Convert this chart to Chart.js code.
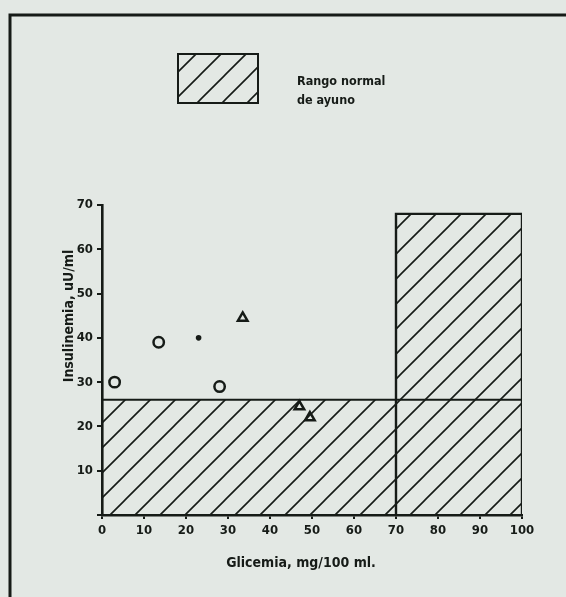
<!DOCTYPE html>
<html>
<head>
<meta charset="utf-8">
<script src="https://cdn.jsdelivr.net/npm/chart.js@4.4.1/dist/chart.umd.min.js"></script>
<style>
  html, body { margin: 0; padding: 0; background: #e3e8e4; }
  #wrap { width: 566px; height: 597px; }
</style>
</head>
<body>
<div id="wrap"><canvas id="c" width="566" height="597"></canvas></div>
<script>
// ---- data ----
const xTickValues = [0, 10, 20, 30, 40, 50, 60, 70, 80, 90, 100];
const yTickValues = [10, 20, 30, 40, 50, 60, 70];
const circleX = [3, 13.5, 28];
const circleY = [30, 39, 29];
const dotX = [23];
const dotY = [40];
const triangleX = [33.5, 47, 49.5];
const triangleY = [44.5, 24.5, 22];
// normal fasting range
const normalInsulinMax = 26;      // horizontal limit (uU/ml)
const normalGlucoseMin = 70;      // mg/100 ml
const normalGlucoseMax = 100;
const rightBoxTop = 68;
const legendLines = ['Rango normal', 'de ayuno'];
const xTitle = 'Glicemia, mg/100 ml.';
const yTitle = 'Insulinemia, uU/ml';

const INK = '#161b17';
const BG = '#e3e8e4';
const FONT = "'DejaVu Sans Condensed', 'Liberation Sans Narrow', 'Liberation Sans', sans-serif";

function makeHatch() {
  const s = 25;
  const p = document.createElement('canvas');
  p.width = s; p.height = s;
  const g = p.getContext('2d');
  g.strokeStyle = INK;
  g.lineWidth = 1.6;
  g.beginPath();
  g.moveTo(-2, s + 2); g.lineTo(s + 2, -2);
  g.moveTo(-2, 2); g.lineTo(2, -2);
  g.moveTo(s - 2, s + 2); g.lineTo(s + 2, s - 2);
  g.stroke();
  return g.createPattern(p, 'repeat');
}
const hatch = makeHatch();

const toPts = (xs, ys) => xs.map((x, i) => ({ x: x, y: ys[i] }));

const decor = {
  id: 'decor',
  beforeDraw(chart) {
    const c = chart.ctx;
    c.save();
    c.fillStyle = BG;
    c.fillRect(0, 0, chart.width, chart.height);
    c.restore();
  },
  afterDraw(chart) {
    const c = chart.ctx;
    c.save();
    // outer frame (left and top edges)
    c.strokeStyle = INK;
    c.lineWidth = 3;
    c.beginPath();
    c.moveTo(10, 600); c.lineTo(10, 15); c.lineTo(570, 15);
    c.stroke();
    // legend box
    const bx = 178, by = 54, bw = 80, bh = 49;
    c.save();
    c.beginPath(); c.rect(bx, by, bw, bh); c.clip();
    c.fillStyle = hatch; c.fillRect(bx, by, bw, bh);
    c.restore();
    c.lineWidth = 2;
    c.strokeRect(bx, by, bw, bh);
    c.fillStyle = INK;
    c.font = 'bold 12.5px ' + FONT;
    c.textBaseline = 'middle';
    c.textAlign = 'left';
    c.fillText(legendLines[0], 297, 82);
    c.fillText(legendLines[1], 297, 101);
    // axis titles
    c.font = 'bold 14px ' + FONT;
    c.textAlign = 'center';
    c.fillText(xTitle, 301, 563);
    c.translate(69, 316);
    c.rotate(-Math.PI / 2);
    c.fillText(yTitle, 0, 0);
    c.restore();
  }
};

new Chart(document.getElementById('c'), {
  type: 'scatter',
  data: {
    datasets: [
      { // lower hatched band
        data: [{ x: 0, y: normalInsulinMax }, { x: normalGlucoseMin, y: normalInsulinMax }],
        showLine: true, fill: 'origin', backgroundColor: hatch,
        borderWidth: 0, borderColor: 'rgba(0,0,0,0)', pointRadius: 0, order: 10
      },
      { // horizontal limit across the plot
        data: [{ x: 0, y: normalInsulinMax }, { x: normalGlucoseMax, y: normalInsulinMax }],
        showLine: true, fill: false, borderColor: INK, borderWidth: 2, pointRadius: 0, order: 9
      },
      { // right hatched box
        data: [{ x: normalGlucoseMin, y: 0 }, { x: normalGlucoseMin, y: rightBoxTop },
               { x: normalGlucoseMax, y: rightBoxTop }, { x: normalGlucoseMax, y: 0 }],
        showLine: true, fill: 'origin', backgroundColor: hatch,
        borderColor: INK, borderWidth: 2.4, pointRadius: 0, order: 8
      },
      {
        data: toPts(circleX, circleY),
        pointStyle: 'circle', pointRadius: 5.2, borderWidth: 2.5,
        borderColor: INK, backgroundColor: 'rgba(0,0,0,0)', order: 1
      },
      {
        data: toPts(dotX, dotY),
        pointStyle: 'circle', pointRadius: 2.8, borderWidth: 0,
        backgroundColor: INK, order: 1
      },
      {
        data: toPts(triangleX, triangleY),
        pointStyle: 'triangle', pointRadius: 5.5, borderWidth: 2.5,
        borderColor: INK, backgroundColor: 'rgba(0,0,0,0)', order: 1
      }
    ]
  },
  options: {
    responsive: false,
    animation: false,
    layout: { padding: { top: 205, right: 44, bottom: 0, left: 0 } },
    plugins: { legend: { display: false }, tooltip: { enabled: false } },
    scales: {
      x: {
        type: 'linear', min: 0, max: 100,
        afterBuildTicks(s) { s.ticks = xTickValues.map(v => ({ value: v })); },
        afterFit(s) { s.height = 82; },
        ticks: { color: INK, font: { family: FONT, size: 13, weight: 'bold' }, padding: 4, maxRotation: 0 },
        grid: { drawOnChartArea: false, drawTicks: true, tickLength: 4, color: INK, lineWidth: 2 },
        border: { display: true, color: INK, width: 2.6 }
      },
      y: {
        type: 'linear', min: 0, max: 70,
        afterBuildTicks(s) { s.ticks = [0].concat(yTickValues).map(v => ({ value: v })); },
        afterFit(s) { s.width = 102; },
        ticks: {
          color: INK, font: { family: FONT, size: 13, weight: 'bold' }, padding: 4,
          callback: v => (v === 0 ? '' : String(v))
        },
        grid: { drawOnChartArea: false, drawTicks: true, tickLength: 5, color: INK, lineWidth: 2 },
        border: { display: true, color: INK, width: 2.6 }
      }
    }
  },
  plugins: [decor]
});
</script>
</body>
</html>
